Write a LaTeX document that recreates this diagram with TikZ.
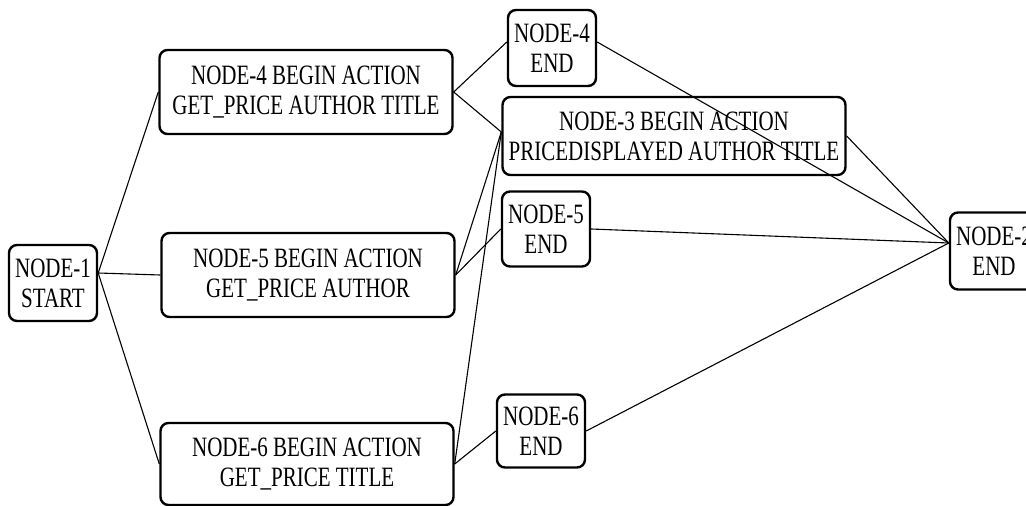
\documentclass[tikz,border=0pt]{standalone}
\usepackage{fontspec}
\setmainfont[FakeStretch=0.75]{Liberation Serif}
\usepackage{tikz}

\begin{document}
\begin{tikzpicture}[
    x=1pt, y=-1pt,
    every node/.style={font=\fontsize{28}{30}\selectfont},
    state/.style={draw, line width=2.4pt, rounded corners=8pt, align=center,
                  minimum width=293pt, minimum height=84pt, inner sep=0pt},
    term/.style={draw, line width=2.4pt, rounded corners=8pt, align=center,
                 minimum width=88pt, minimum height=76pt, inner sep=0pt},
    link/.style={line width=1.1pt}
]
\useasboundingbox (0,0) rectangle (1026,506);

\node[term] (start) at (53,283) {NODE-1\\START};
\node[state] (b4) at (306,92) {NODE-4 BEGIN ACTION\\GET\_PRICE AUTHOR TITLE};
\node[state] (b5) at (308,275) {NODE-5 BEGIN ACTION\\GET\_PRICE AUTHOR};
\node[state, minimum height=82pt] (b6) at (307,464) {NODE-6 BEGIN ACTION\\GET\_PRICE TITLE};

\node[term] (e4) at (552,48) {NODE-4\\END};
\node[state, minimum width=343pt, minimum height=78pt] (b3) at (674,136)
    {NODE-3 BEGIN ACTION\\PRICEDISPLAYED AUTHOR TITLE};
\node[term, minimum height=75pt] (e5) at (546,229) {NODE-5\\END};
\node[term, minimum height=73pt] (e6) at (541,431) {NODE-6\\END};

\node[term, minimum height=77pt] (e2) at (994,251) {NODE-2\\END};

\draw[link] ([yshift=10pt]start.east) -- (b4.west);
\draw[link] ([yshift=10pt]start.east) -- (b5.west);
\draw[link] ([yshift=10pt]start.east) -- (b6.west);

\draw[link] (b4.east) -- ([yshift=6pt]e4.west);
\draw[link] (b4.east) -- ([yshift=4pt]b3.west);
\draw[link] (b5.east) -- ([yshift=4pt]b3.west);
\draw[link] (b5.east) -- (e5.west);
\draw[link] (b6.east) -- ([yshift=4pt]b3.west);
\draw[link] (b6.east) -- (e6.west);

\draw[link] ([yshift=6pt]e4.east) -- ([yshift=8pt]e2.west);
\draw[link] (b3.east) -- ([yshift=8pt]e2.west);
\draw[link] (e5.east) -- ([yshift=8pt]e2.west);
\draw[link] (e6.east) -- ([yshift=8pt]e2.west);
\end{tikzpicture}
\end{document}
